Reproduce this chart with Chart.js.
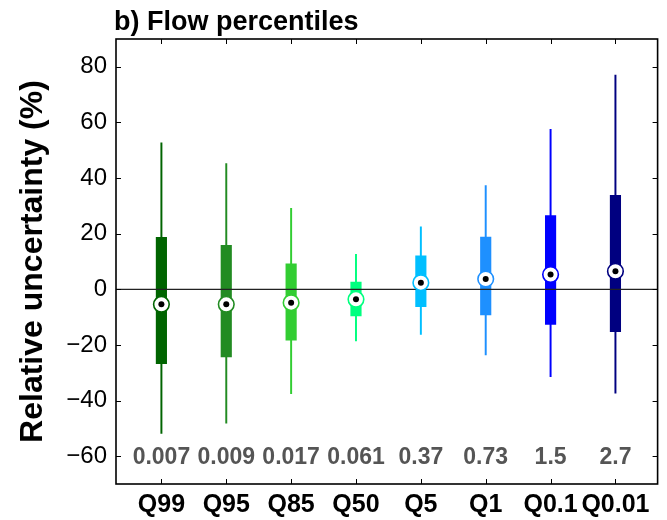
<!DOCTYPE html>
<html>
<head>
<meta charset="utf-8">
<script src="https://cdn.jsdelivr.net/npm/chart.js@4/dist/chart.umd.min.js"></script>
<style>
  html, body { margin: 0; padding: 0; background: #fff; }
  canvas { display: block; }
</style>
</head>
<body>
<canvas id="c" width="667" height="520"></canvas>
<script>
// Flow percentile classes
const categories = ['Q99', 'Q95', 'Q85', 'Q50', 'Q5', 'Q1', 'Q0.1', 'Q0.01'];
// Relative uncertainty (%) summary per class
const whiskerLow  = [-51.8, -48.1, -37.5, -18.6, -16.2, -23.6, -31.4, -37.3];
const boxLow      = [-26.7, -24.3, -18.3,  -9.6,  -6.2,  -9.2, -12.6, -15.2];
const medians     = [ -5.4,  -5.4,  -4.8,  -3.6,   2.4,   3.7,   5.3,   6.5];
const boxHigh     = [ 18.7,  15.8,   9.2,   2.6,  12.0,  18.8,  26.5,  33.8];
const whiskerHigh = [ 52.7,  45.2,  29.1,  12.6,  22.5,  37.3,  57.5,  77.0];
// Flow value printed under each class
const flowLabels  = ['0.007', '0.009', '0.017', '0.061', '0.37', '0.73', '1.5', '2.7'];
// Y axis tick values
const yTicks = [-60, -40, -20, 0, 20, 40, 60, 80];

const classColors = ['#006400', '#228B22', '#32CD32', '#00FF7F', '#00BFFF', '#1E90FF', '#0000FF', '#000080'];
const FONT = '"Liberation Sans", Arial, Helvetica, sans-serif';
Chart.defaults.font.family = FONT;
Chart.defaults.color = '#000';

const pos = categories.map((_, i) => i + 1);

const whiskerData = pos.map((x, i) => ({ x, y: [whiskerLow[i], whiskerHigh[i]] }));
const boxData = pos.map((x, i) => ({ x, y: [boxLow[i], boxHigh[i]] }));
const medianData = pos.map((x, i) => ({ x, y: medians[i] }));

// zero reference line, drawn over the boxes but under the median markers
const zeroLine = {
  id: 'zeroLine',
  afterDatasetDraw(chart, args) {
    if (args.index !== 1) return;
    const { ctx, chartArea } = chart;
    const y = chart.scales.y.getPixelForValue(0);
    ctx.save();
    ctx.strokeStyle = '#222';
    ctx.lineWidth = 1.2;
    ctx.beginPath();
    ctx.moveTo(chartArea.left, y);
    ctx.lineTo(chartArea.right, y);
    ctx.stroke();
    ctx.restore();
  }
};

// box frame, inward ticks, title and flow labels
const decorations = {
  id: 'decorations',
  afterDraw(chart) {
    const { ctx, chartArea: a } = chart;
    const xs = chart.scales.x, ys = chart.scales.y;
    ctx.save();
    ctx.strokeStyle = '#000';
    ctx.lineWidth = 1;
    const tl = 5;
    ctx.beginPath();
    xs.ticks.forEach(t => {
      const px = Math.round(xs.getPixelForValue(t.value)) + 0.5;
      ctx.moveTo(px, a.bottom); ctx.lineTo(px, a.bottom - tl);
      ctx.moveTo(px, a.top); ctx.lineTo(px, a.top + tl);
    });
    ys.ticks.forEach(t => {
      const py = Math.round(ys.getPixelForValue(t.value)) + 0.5;
      ctx.moveTo(a.left, py); ctx.lineTo(a.left + tl, py);
      ctx.moveTo(a.right, py); ctx.lineTo(a.right - tl, py);
    });
    ctx.stroke();

    ctx.lineWidth = 1.6;
    ctx.strokeRect(a.left, a.top, a.right - a.left, a.bottom - a.top);

    // flow labels along the bottom of the plot
    ctx.fillStyle = '#555555';
    ctx.font = 'bold 23px ' + FONT;
    ctx.textAlign = 'center';
    ctx.textBaseline = 'middle';
    const ly = ys.getPixelForValue(-60) + 1;
    flowLabels.forEach((s, i) => ctx.fillText(s, xs.getPixelForValue(pos[i]), ly));

    // panel title
    ctx.fillStyle = '#000';
    ctx.font = 'bold 27px ' + FONT;
    ctx.textAlign = 'left';
    ctx.textBaseline = 'alphabetic';
    ctx.fillText('b) Flow percentiles', a.left - 2, 29.5);
    ctx.restore();
  }
};

new Chart(document.getElementById('c'), {
  type: 'bar',
  data: {
    datasets: [
      {
        label: 'range',
        data: whiskerData,
        backgroundColor: classColors,
        borderWidth: 0,
        barThickness: 1.3,
        grouped: false,
        order: 4
      },
      {
        label: 'interquartile',
        data: boxData,
        backgroundColor: classColors,
        borderWidth: 0,
        barThickness: 10.5,
        grouped: false,
        order: 3
      },
      {
        type: 'line',
        label: 'median',
        data: medianData,
        showLine: false,
        pointRadius: 7.8,
        pointBackgroundColor: '#fff',
        pointBorderColor: classColors,
        pointBorderWidth: 1.6,
        order: 2
      },
      {
        type: 'line',
        label: 'median dot',
        data: medianData,
        showLine: false,
        pointRadius: 3,
        pointBackgroundColor: '#000',
        pointBorderWidth: 0,
        order: 1
      }
    ]
  },
  options: {
    responsive: false,
    devicePixelRatio: 1,
    animation: false,
    events: [],
    layout: { padding: { top: 39, right: 3, bottom: 0, left: 0 } },
    plugins: {
      legend: { display: false },
      tooltip: { enabled: false },
      title: { display: false }
    },
    scales: {
      x: {
        type: 'linear',
        min: 0.3,
        max: 8.65,
        offset: false,
        grid: { display: false, drawTicks: false },
        border: { display: false },
        afterBuildTicks(scale) { scale.ticks = pos.map(v => ({ value: v })); },
        afterFit(scale) { scale.height = 36; },
        ticks: {
          autoSkip: false,
          maxRotation: 0,
          padding: 6,
          color: '#000',
          font: { size: 25, weight: 'bold' },
          callback: v => categories[v - 1] || ''
        }
      },
      y: {
        min: -70,
        max: 90,
        grid: { display: false, drawTicks: false },
        border: { display: false },
        afterBuildTicks(scale) { scale.ticks = yTicks.map(v => ({ value: v })); },
        afterFit(scale) { scale.width = 116; },
        ticks: {
          padding: 9,
          color: '#000',
          font: { size: 24 },
          callback: v => (v < 0 ? '\u2212' + Math.abs(v) : String(v))
        },
        title: {
          display: true,
          text: 'Relative uncertainty (%)',
          color: '#000',
          font: { size: 32, weight: 'bold' },
          padding: { top: 14, bottom: 0 }
        }
      }
    }
  },
  plugins: [zeroLine, decorations]
});
</script>
</body>
</html>
